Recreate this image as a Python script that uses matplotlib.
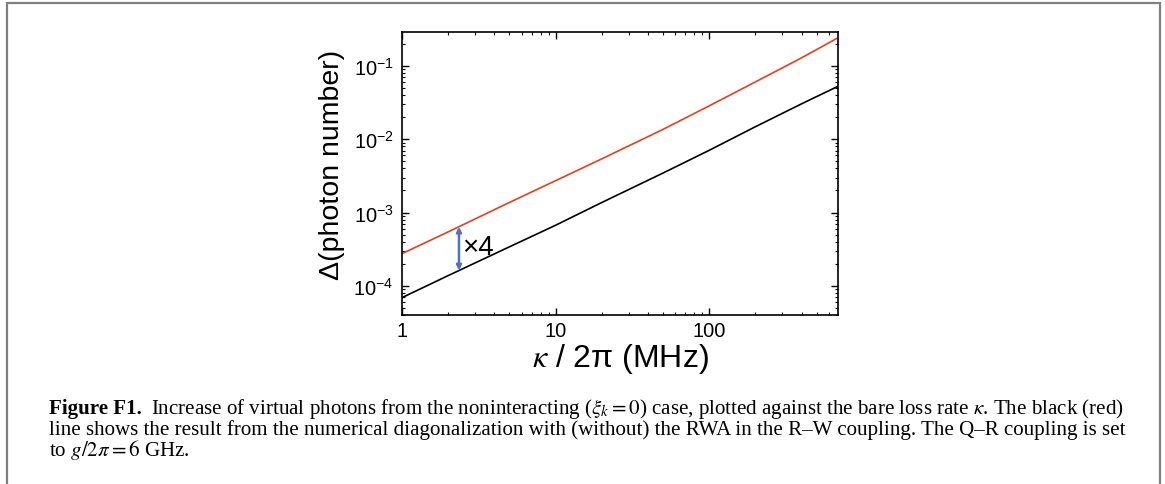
import matplotlib
matplotlib.use("Agg")
import matplotlib.pyplot as plt
import numpy as np
from matplotlib.patches import Rectangle

plt.rcParams['font.family'] = ['Liberation Sans', 'DejaVu Sans']
plt.rcParams['mathtext.fontset'] = 'stix'
plt.rcParams['axes.unicode_minus'] = False

# values (kappa / 2pi in MHz, Delta photon number)
kappa = [1, 2, 5, 10, 20, 50, 100, 200, 400, 690]
delta_no_rwa = [2.75e-4, 5.45e-4, 1.37e-3, 2.72e-3, 5.4e-3, 1.36e-2, 2.85e-2, 6.05e-2, 1.29e-1, 2.42e-1]   # red
delta_rwa = [6.9e-5, 1.38e-4, 3.4e-4, 6.7e-4, 1.37e-3, 3.45e-3, 7.05e-3, 1.48e-2, 3.04e-2, 5.27e-2]       # black

arrow_x = 2.35
arrow_lo, arrow_hi = 1.62e-4, 6.4e-4
ratio_label = "×4"

x_ticks = [1, 10, 100]
x_ticklabels = ["1", "10", "100"]

W, H = 1165, 485
fig = plt.figure(figsize=(W / 100, H / 100), dpi=100)

# page frame
fig.add_artist(Rectangle((6.5 / W, -0.1), (1160 - 6.5) / W, 1.1 - 4 / H,
                         transform=fig.transFigure, fill=False,
                         edgecolor='#808080', linewidth=1.6))

ax = fig.add_axes([402 / W, 1 - 316 / H, (838 - 402) / W, (316 - 33) / H])
ax.plot(kappa, delta_no_rwa, color='#e8401c', lw=1.2)
ax.plot(kappa, delta_rwa, color='black', lw=1.2)
ax.set_xscale('log')
ax.set_yscale('log')
ax.set_xlim(1, 690)
ax.set_ylim(4.0e-5, 0.29)
ax.set_xticks(x_ticks)
ax.set_xticklabels(x_ticklabels)
ax.set_yticks([1e-4, 1e-3, 1e-2, 1e-1])

ax.tick_params(which='both', direction='in', top=True, right=True, labelsize=14.5)
ax.tick_params(which='major', length=5, width=1)
ax.tick_params(which='minor', length=2.5, width=0.8)
ax.tick_params(axis='x', pad=4)
ax.tick_params(axis='y', pad=6)
for s in ax.spines.values():
    s.set_linewidth(1.2)

ax.annotate('', xy=(arrow_x, arrow_hi), xytext=(arrow_x, arrow_lo),
            arrowprops=dict(arrowstyle='<|-|>', color='#4f72c8', lw=1.8,
                            mutation_scale=7, shrinkA=0, shrinkB=0))
ax.text(arrow_x * 1.04, np.sqrt(arrow_lo * arrow_hi) * 1.06, ratio_label,
        fontsize=20, va='center', ha='left')

ax.set_xlabel(r"$\kappa$ / 2π (MHz)", fontsize=23, labelpad=1)
ax.set_ylabel("Δ(photon number)", fontsize=20.5)
ax.yaxis.set_label_coords(-0.131, 0.535)

# caption, sized so the first line spans the same width as in the reference
serif = ['Liberation Serif', 'DejaVu Serif']
renderer = fig.canvas.get_renderer()
x0 = 49 / W
line1_rest = r"Increase of virtual photons from the noninteracting ($\xi_k = 0$) case, plotted against the bare loss rate $\kappa$. The black (red)"
line2 = "line shows the result from the numerical diagonalization with (without) the RWA in the R–W coupling. The Q–R coupling is set"
line3 = r"to $g/2\pi = 6$ GHz."

def caption_line1(size):
    t1 = fig.text(x0, 1 - 414 / H, "Figure F1.", fontsize=size, fontweight='bold',
                  family=serif, va='baseline')
    bb = t1.get_window_extent(renderer)
    t2 = fig.text((bb.x1 + 0.6 * size) / W, 1 - 414 / H, line1_rest,
                  fontsize=size, family=serif, va='baseline')
    return t1, t2

t1, t2 = caption_line1(12.0)
width = t2.get_window_extent(renderer).x1 - 49
cap_size = 12.0 * (1122 - 49) / width
t1.remove()
t2.remove()
caption_line1(cap_size)
fig.text(x0, 1 - 435 / H, line2, fontsize=cap_size, family=serif, va='baseline')
fig.text(x0, 1 - 456 / H, line3, fontsize=cap_size, family=serif, va='baseline')

fig.savefig('out.png', dpi=100)
